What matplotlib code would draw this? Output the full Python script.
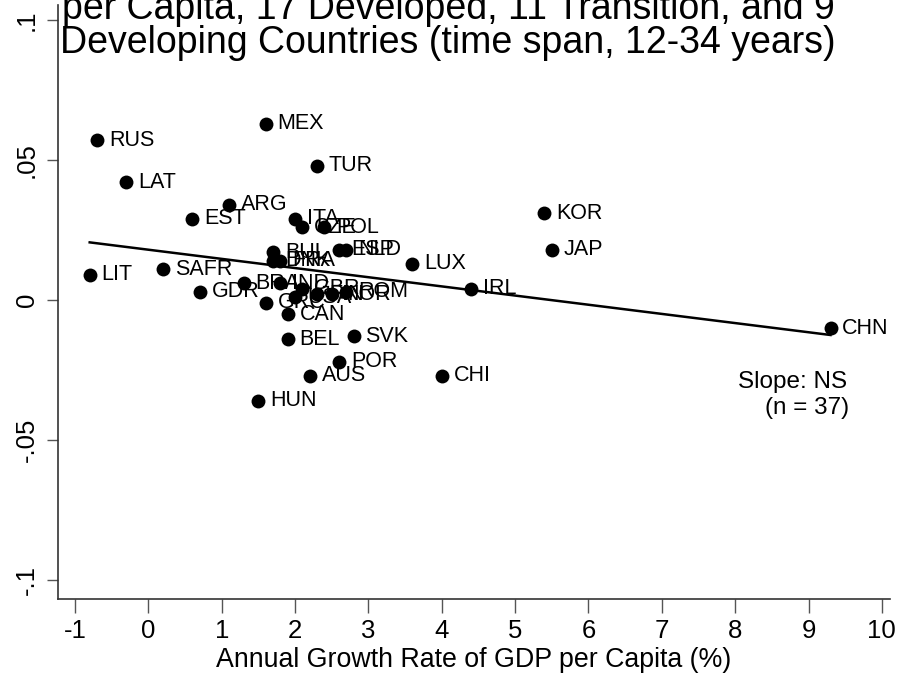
import numpy as np
import matplotlib
matplotlib.use("Agg")
import matplotlib.pyplot as plt

plt.rcParams['font.family'] = ['Liberation Sans', 'DejaVu Sans']

countries = ["RUS", "LAT", "MEX", "TUR", "ARG", "EST", "ITA", "CZE", "POL", "KOR",
             "JAP", "ESP", "NLD", "LUX", "IRL", "CHN", "CHI", "LIT", "SAFR", "GDR",
             "BUL", "DNK", "FRA", "BRA", "IND", "GBR", "FIN", "ROM", "USA", "NOR",
             "GRC", "CAN", "BEL", "SVK", "POR", "AUS", "HUN"]
growth = [-0.7, -0.3, 1.6, 2.3, 1.1, 0.6, 2.0, 2.1, 2.4, 5.4,
          5.5, 2.6, 2.7, 3.6, 4.4, 9.3, 4.0, -0.8, 0.2, 0.7,
          1.7, 1.7, 1.8, 1.3, 1.8, 2.1, 2.3, 2.7, 2.0, 2.5,
          1.6, 1.9, 1.9, 2.8, 2.6, 2.2, 1.5]
change = [0.057, 0.042, 0.063, 0.048, 0.034, 0.029, 0.029, 0.026, 0.026, 0.031,
          0.018, 0.018, 0.018, 0.013, 0.004, -0.010, -0.027, 0.009, 0.011, 0.003,
          0.017, 0.014, 0.014, 0.006, 0.006, 0.004, 0.002, 0.003, 0.001, 0.002,
          -0.001, -0.005, -0.014, -0.013, -0.022, -0.027, -0.036]

xticks = [-1, 0, 1, 2, 3, 4, 5, 6, 7, 8, 9, 10]
yticks = [-0.1, -0.05, 0, 0.05, 0.1]
ytick_labels = ["-.1", "-.05", "0", ".05", ".1"]

title_line1 = "per Capita, 17 Developed, 11 Transition, and 9"
title_line2 = "Developing Countries (time span, 12-34 years)"
xlabel = "Annual Growth Rate of GDP per Capita (%)"

fig = plt.figure(figsize=(8.98, 6.75), dpi=100)
ax = fig.add_axes([0.0646, 0.1126, 0.9264, 0.88])

x = np.array(growth)
y = np.array(change)
ax.scatter(x, y, s=100, color='black', zorder=3, linewidths=0)
for c, xi, yi in zip(countries, x, y):
    ax.annotate(c, (xi, yi), xytext=(8.5, 0), textcoords='offset points',
                ha='left', va='center', fontsize=15.5, color='black')

slope, intercept = np.polyfit(x, y, 1)
xl = np.array([x.min(), x.max()])
ax.plot(xl, intercept + slope * xl, color='black', lw=1.8, zorder=2)

ax.set_xlim(-1.232, 10.11)
ax.set_ylim(-0.1068, 0.1054)
ax.set_xticks(xticks)
ax.set_xticklabels([str(t) for t in xticks], fontsize=18.5)
ax.set_yticks(yticks)
ax.set_yticklabels(ytick_labels, fontsize=18.5, rotation=90, va='center')
ax.tick_params(axis='x', length=10, width=1, pad=4.5, color='#555555')
ax.tick_params(axis='y', length=8, width=1, pad=6, color='#555555')
for s in ['top', 'right']:
    ax.spines[s].set_visible(False)
for s in ['left', 'bottom']:
    ax.spines[s].set_linewidth(1.2)
    ax.spines[s].set_color('#333333')
ax.set_xlabel(xlabel, fontsize=19.3, labelpad=3)

ax.text(9.52, -0.0293, "Slope: NS", ha='right', va='center', fontsize=17.5)
ax.text(9.55, -0.0386, "(n = 37)", ha='right', va='center', fontsize=17.5)

fig.text(0.499, 1 - 9 / 675, title_line1, ha='center', va='center', fontsize=27)
fig.text(0.499, 1 - 43 / 675, title_line2, ha='center', va='center', fontsize=27)

fig.savefig("out.png", dpi=100)
